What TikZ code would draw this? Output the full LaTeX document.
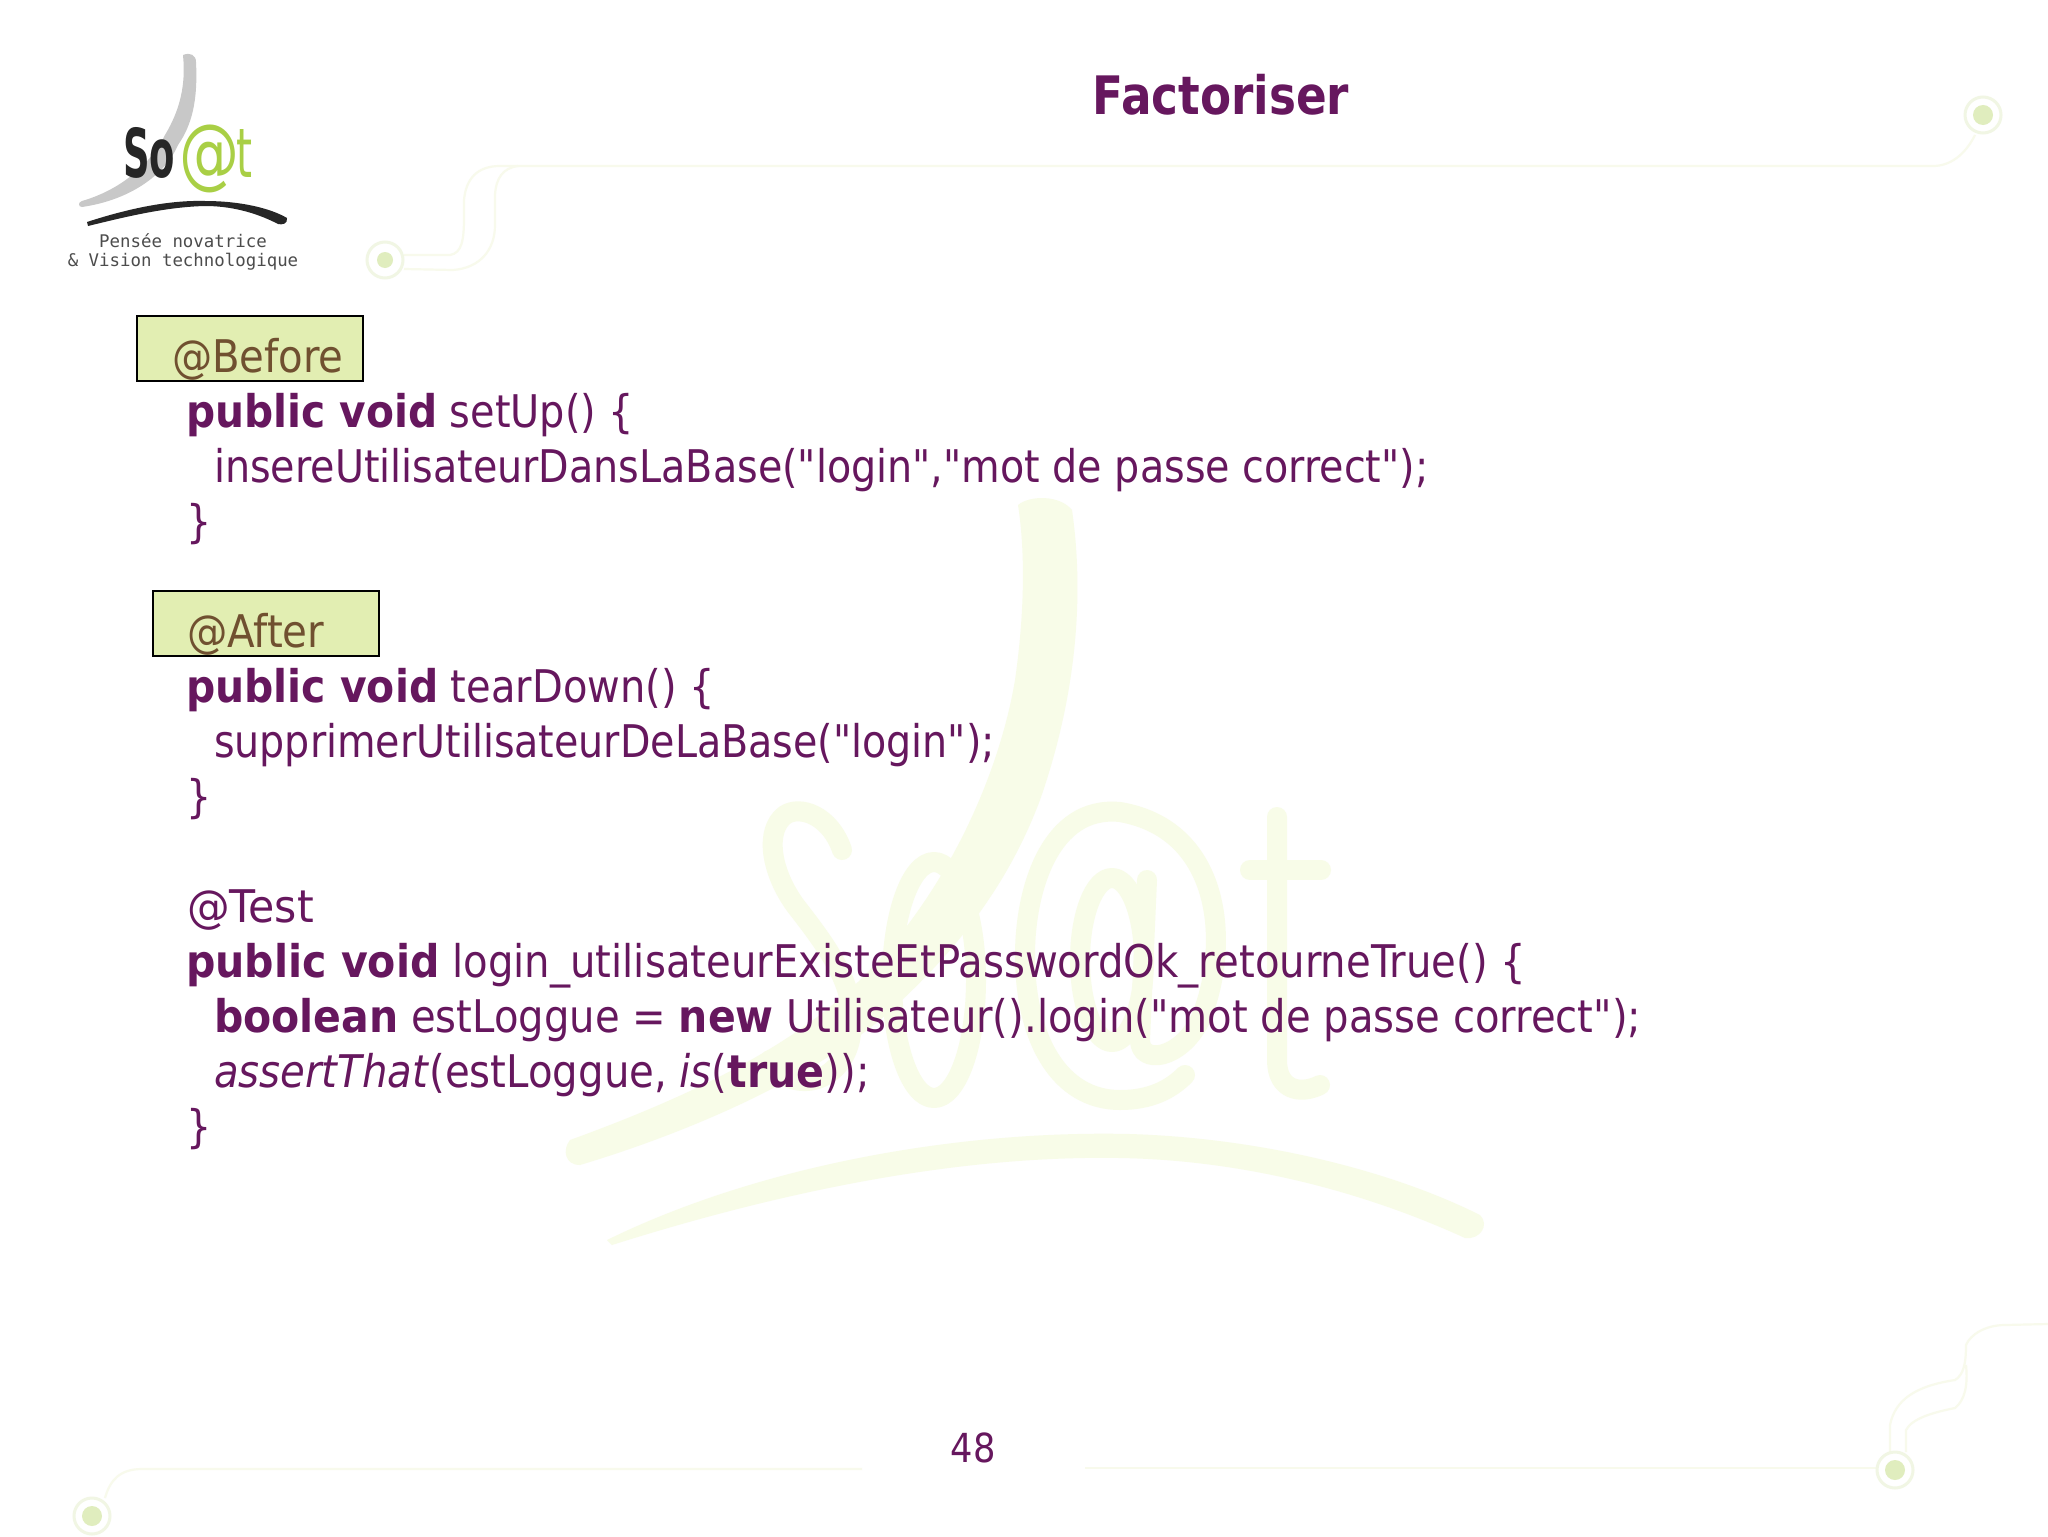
\documentclass[tikz,border=0pt]{standalone}
\usepackage{fontspec}
\usepackage{graphicx}
\setmainfont{DejaVu Sans}[FakeStretch=0.88,BoldFeatures={FakeStretch=0.90}]
\newfontfamily\logomono{DejaVu Sans Mono}
\newfontfamily\logosans{DejaVu Sans}
\newfontfamily\quotefont{DejaVu Sans}[FakeStretch=0.88]
\newcommand{\dq}{{\quotefont\symbol{34}}}
\newcommand{\sx}[2]{\scalebox{#1}[1]{#2}}
\definecolor{purp}{HTML}{66175E}
\definecolor{brownish}{HTML}{705030}
\definecolor{boxfill}{HTML}{E2EEB2}
\definecolor{wm}{HTML}{F8FCE8}
\definecolor{wire}{HTML}{F8FAEC}
\definecolor{dotin}{HTML}{E0EDBE}
\definecolor{dotout}{HTML}{F1F6E4}
\definecolor{lgreen}{HTML}{A9CF45}
\definecolor{lgray}{HTML}{C8C8C8}
\tikzset{
  codeline/.style={anchor=base west,inner sep=0pt,outer sep=0pt,text=purp,font=\fontsize{22.5}{26}\selectfont},
  tagbox/.style={draw=black,line width=1pt,fill=boxfill},
  wireline/.style={draw=wire,line width=1.1pt},
  dotring/.style={draw=dotout,line width=1.5pt,fill=white},
  dotcore/.style={fill=dotin},
  logotext/.style={inner sep=0pt,outer sep=0pt},
  wmstroke/.style={draw=wm,line width=10pt,line cap=round,line join=round},
}
\begin{document}
\begin{tikzpicture}[x=0.5pt,y=-0.5pt]
\useasboundingbox (0,0) rectangle (2048,1536);
\fill[white] (0,0) rectangle (2048,1536);

% watermark
\fill[wm] (1018,505) .. controls (1030,495) and (1060,495) .. (1072,510)
  .. controls (1085,600) and (1075,700) .. (1040,800)
  .. controls (1010,880) and (960,950) .. (880,1020)
  .. controls (800,1085) and (680,1135) .. (580,1165)
  .. controls (565,1165) and (562,1150) .. (570,1140)
  .. controls (680,1100) and (790,1050) .. (860,980)
  .. controls (950,890) and (1000,770) .. (1015,680)
  .. controls (1025,610) and (1025,550) .. (1018,505) -- cycle;
\fill[wm] (607,1240) .. controls (760,1165) and (960,1130) .. (1130,1134)
  .. controls (1260,1138) and (1390,1170) .. (1480,1215)
  .. controls (1490,1225) and (1480,1240) .. (1465,1238)
  .. controls (1360,1190) and (1240,1160) .. (1120,1158)
  .. controls (950,1155) and (770,1195) .. (612,1245) -- cycle;
\path[wmstroke] (842,850) .. controls (830,815) and (800,805) .. (785,815)
  .. controls (765,830) and (770,870) .. (795,905)
  .. controls (830,950) and (860,990) .. (850,1040)
  .. controls (840,1085) and (790,1095) .. (770,1060);
\path[wmstroke] (934,980) ellipse [x radius=42,y radius=118];
\path[wmstroke] (1147,880) -- (1140,1040) .. controls (1140,1065) and (1180,1060) .. (1200,1020)
  .. controls (1230,950) and (1225,830) .. (1120,812)
  .. controls (1050,805) and (1025,890) .. (1025,955)
  .. controls (1025,1040) and (1060,1100) .. (1120,1100)
  .. controls (1150,1100) and (1170,1090) .. (1185,1075);
\path[wmstroke] (1112,960) ellipse [x radius=32,y radius=82];
\path[wmstroke] (1277,817) -- (1277,1060) .. controls (1277,1090) and (1300,1095) .. (1320,1085);
\path[wmstroke] (1250,870) -- (1321,870);

% circuit decorations
\path[wireline] (404,255) -- (450,255) .. controls (462,253) and (464,240) .. (464,217)
  -- (464,200) .. controls (466,178) and (478,166) .. (500,166) -- (1933,166)
  .. controls (1950,166) and (1965,155) .. (1975,135);
\path[wireline] (404,269) -- (453,270) .. controls (480,268) and (495,250) .. (495,225)
  -- (495,195) .. controls (496,178) and (503,168) .. (518,166);
\path[wireline] (105,1498) .. controls (110,1480) and (120,1469) .. (142,1469) -- (862,1469);
\path[wireline] (1085,1468) -- (1876,1468);
\path[wireline] (1890,1452) -- (1890,1425) .. controls (1895,1400) and (1915,1386) .. (1955,1380)
  .. controls (1963,1375) and (1966,1365) .. (1966,1345) .. controls (1970,1335) and (1985,1325) .. (2005,1325) -- (2048,1324);
\path[wireline] (1906,1452) -- (1906,1430) .. controls (1912,1418) and (1935,1412) .. (1955,1408)
  .. controls (1965,1400) and (1968,1385) .. (1966,1365);

\node[circle,dotring,minimum size=18pt,inner sep=0pt] (dota) at (385,260) {};
\node[circle,dotcore,minimum size=8pt,inner sep=0pt] (dotai) at (385,260) {};
\node[circle,dotring,minimum size=18pt,inner sep=0pt] (dotb) at (1983,115) {};
\node[circle,dotcore,minimum size=10pt,inner sep=0pt] (dotbi) at (1983,115) {};
\node[circle,dotring,minimum size=18pt,inner sep=0pt] (dotc) at (1895,1470) {};
\node[circle,dotcore,minimum size=10pt,inner sep=0pt] (dotci) at (1895,1470) {};
\node[circle,dotring,minimum size=18pt,inner sep=0pt] (dotd) at (92,1516) {};
\node[circle,dotcore,minimum size=10pt,inner sep=0pt] (dotdi) at (92,1516) {};

% logo
\fill[lgray] (183,55) .. controls (190,52) and (196,55) .. (196,62)
  .. controls (198,100) and (192,125) .. (178,145)
  .. controls (165,175) and (130,200) .. (82,207)
  .. controls (78,207) and (78,202) .. (82,201)
  .. controls (120,190) and (150,165) .. (165,135)
  .. controls (180,110) and (186,85) .. (183,55) -- cycle;
\fill[black!85] (87,222) .. controls (130,208) and (170,200) .. (205,201)
  .. controls (240,201) and (270,208) .. (287,218)
  .. controls (288,224) and (282,225) .. (278,224)
  .. controls (255,212) and (230,206) .. (205,206)
  .. controls (165,207) and (125,217) .. (88,226) -- cycle;
\node[logotext,text=black!85] (logoso) at (149,152.5) {\resizebox*{26pt}{25.5pt}{\logosans\bfseries So}};
\node[logotext,text=lgreen] (logoat) at (209,159) {\resizebox*{30pt}{34pt}{\logosans @}};
\node[logotext,text=lgreen] (logot) at (244,153) {\resizebox*{8pt}{24pt}{\logosans t}};
\node[logotext,text=black!70,font=\logomono\fontsize{8.7}{10}\selectfont] (logol1) at (183,241) {Pensée novatrice};
\node[logotext,text=black!70,font=\logomono\fontsize{8.7}{10}\selectfont] (logol2) at (183,262) {\& Vision technologique};

% title and page number
\node[anchor=base,inner sep=0pt,text=purp,font=\fontsize{26.5}{30}\selectfont\bfseries] (title) at (1221,114) {\sx{0.95}{Factoriser}};
\node[anchor=base,inner sep=0pt,text=purp,font=\fontsize{20}{24}\selectfont] (pagenum) at (973,1462) {48};

% boxes
\node[tagbox,minimum width=113pt,minimum height=32.5pt,inner sep=0pt] (beforebox) at (250,348.5) {};
\node[tagbox,minimum width=113pt,minimum height=32.5pt,inner sep=0pt] (afterbox) at (266,623) {};

% code
\node[codeline,text=brownish] (l1) at (172,372) {\sx{1.015}{@Before}};
\node[codeline] (l2) at (186,427) {\sx{1.006}{\textbf{public void} setUp() \{}};
\node[codeline] (l3) at (214,482) {\sx{1.001}{insereUtilisateurDansLaBase(\dq login\dq,\dq mot de passe correct\dq);}};
\node[codeline] (l4) at (186,537) {\}};
\node[codeline,text=brownish] (l5) at (187,647) {\sx{1.02}{@After}};
\node[codeline] (l6) at (186,702) {\sx{1.01}{\textbf{public void} tearDown() \{}};
\node[codeline] (l7) at (214,757) {\sx{1.0}{supprimerUtilisateurDeLaBase(\dq login\dq);}};
\node[codeline] (l8) at (186,812) {\}};
\node[codeline] (l9) at (187,922) {\sx{1.078}{@Test}};
\node[codeline] (l10) at (186,977) {\sx{1.015}{\textbf{public void} login\_utilisateurExisteEtPasswordOk\_retourneTrue() \{}};
\node[codeline] (l11) at (214,1032) {\sx{1.013}{\textbf{boolean} estLoggue = \textbf{new} Utilisateur().login(\dq mot de passe correct\dq);}};
\node[codeline] (l12) at (214,1087) {\sx{1.016}{\textit{assertThat}(estLoggue, \textit{is}(\textbf{true}));}};
\node[codeline] (l13) at (186,1142) {\}};
\end{tikzpicture}
\end{document}
